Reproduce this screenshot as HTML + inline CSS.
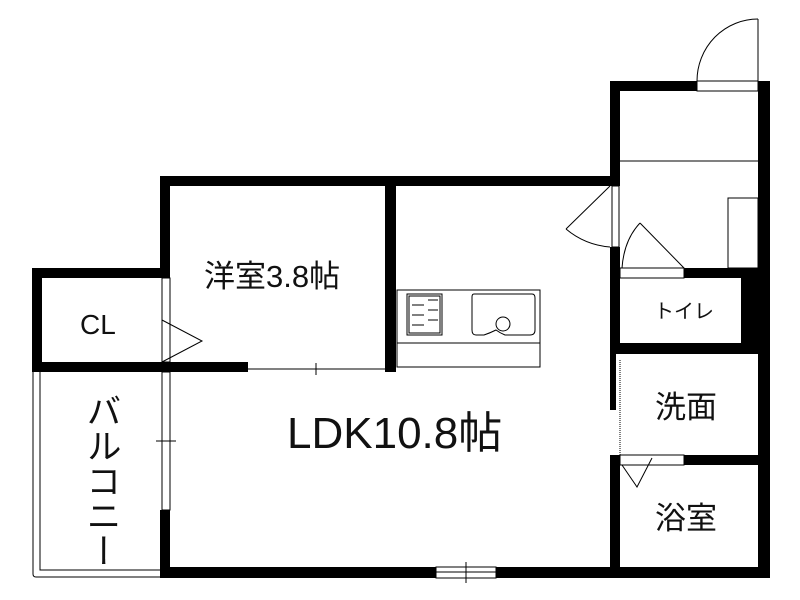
<!DOCTYPE html>
<html><head><meta charset="utf-8"><style>
html,body{margin:0;padding:0;background:#fff;}
svg{display:block}
text{font-family:"Liberation Sans","Noto Sans CJK JP",sans-serif;fill:#111}
</style></head><body>
<svg width="800" height="600" viewBox="0 0 800 600" xmlns="http://www.w3.org/2000/svg">
<g fill="#000">
<rect x="610" y="81" width="87" height="10"/>
<rect x="758" y="81" width="12" height="497"/>
<rect x="610" y="81" width="10" height="105"/>
<rect x="160" y="176" width="460" height="10"/>
<rect x="385" y="176" width="11" height="196"/>
<rect x="610" y="247" width="10" height="107"/>
<rect x="610" y="340" width="6" height="70"/>
<rect x="610" y="455" width="10" height="123"/>
<rect x="684" y="268" width="86" height="10"/>
<rect x="741" y="268" width="29" height="86"/>
<rect x="610" y="343" width="160" height="11"/>
<rect x="684" y="455" width="86" height="10"/>
<rect x="160" y="567" width="276" height="11"/>
<rect x="496" y="567" width="274" height="11"/>
<rect x="160" y="176" width="10" height="102"/>
<rect x="32" y="268" width="138" height="10"/>
<rect x="32" y="268" width="10" height="104"/>
<rect x="32" y="362" width="216" height="10"/>
<rect x="160" y="510" width="10" height="68"/>
</g>
<g fill="none" stroke="#000" stroke-width="1">
<rect x="697" y="81" width="61" height="10"/>
<line x1="758" y1="19" x2="758" y2="81"/>
<path d="M697 81 A61 62 0 0 1 758 19"/>
<line x1="620" y1="161" x2="758" y2="161"/>
<rect x="728" y="198" width="30" height="70"/>
<rect x="612" y="186" width="7" height="61"/>
<line x1="610" y1="186" x2="566" y2="229"/>
<path d="M566 229 Q585 245 610 247"/>
<rect x="620" y="268" width="64" height="10"/>
<line x1="640" y1="223" x2="684" y2="268"/>
<path d="M640 223 Q624 240 622 268"/>
<rect x="397" y="290" width="143" height="77"/>
<line x1="397" y1="343" x2="540" y2="343"/>
<rect x="407" y="294" width="35" height="41"/>
<rect x="409" y="296" width="31" height="37"/>
<line x1="412" y1="305" x2="424" y2="305"/><line x1="412" y1="315" x2="424" y2="315"/><line x1="412" y1="325" x2="424" y2="325"/>
<line x1="428" y1="300" x2="438" y2="300"/><line x1="428" y1="310" x2="438" y2="310"/><line x1="428" y1="320" x2="438" y2="320"/>
<path d="M474 294 H532 Q535 294 535 298 V330 Q535 335 530 335 H505 Q500 333 496 330 Q490 333 484 335 H476 Q472 335 472 330 V297 Q472 294 474 294 Z"/>
<circle cx="503" cy="324" r="7"/>
<line x1="620" y1="360" x2="620" y2="455" stroke-dasharray="1,1"/>
<rect x="620" y="455" width="64" height="10"/>
<polyline points="622,465 637,487 652,458"/>
<polyline points="162,320 202,341 162,362"/>
<rect x="162" y="278" width="8" height="84"/>
<line x1="248" y1="369" x2="385" y2="369"/>
<line x1="316" y1="363" x2="316" y2="375"/>
<rect x="162" y="372" width="8" height="138"/>
<line x1="156" y1="441" x2="176" y2="441"/>
<path d="M33 372 V574 Q33 577 36 577 H160"/>
<path d="M40 372 V570 H160"/>
<rect x="436" y="567" width="60" height="11"/>
<line x1="436" y1="572" x2="496" y2="572"/>
<line x1="466" y1="562" x2="466" y2="583"/>
</g>
<text x="204" y="287" font-size="31">洋室3.8帖</text>
<text x="80" y="334" font-size="28">CL</text>
<text x="287" y="448" font-size="44">LDK10.8帖</text>
<text x="654" y="318" font-size="20">トイレ</text>
<text x="655" y="418" font-size="31">洗面</text>
<text x="655" y="529" font-size="31">浴室</text>
<text font-size="35" x="101" y="393" style="writing-mode:vertical-rl">バルコニー</text>
</svg>
</body></html>
